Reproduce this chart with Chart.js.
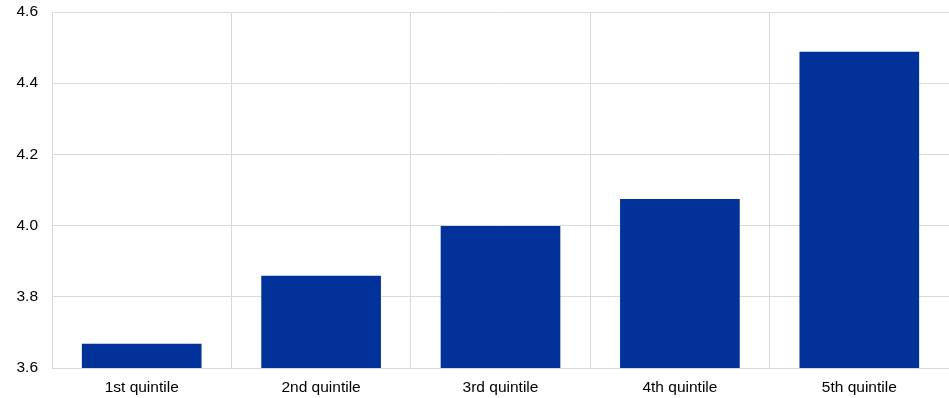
<!DOCTYPE html>
<html>
<head>
<meta charset="utf-8">
<script src="https://cdn.jsdelivr.net/npm/chart.js@4"></script>
<style>
  html, body { margin: 0; padding: 0; background: #fff; }
  #wrap { width: 949px; height: 398px; }
</style>
</head>
<body>
<div id="wrap"><canvas id="myChart"></canvas></div>
<script>
var categories = ['1st quintile', '2nd quintile', '3rd quintile', '4th quintile', '5th quintile'];
var values = [3.668, 3.859, 3.999, 4.075, 4.488];
var yTicks = [3.6, 3.8, 4.0, 4.2, 4.4, 4.6];

var ctx = document.getElementById('myChart');
var myChart = new Chart(ctx, {
    type: 'bar',
    data: {
        labels: categories,
        datasets: [{
            data: values,
            backgroundColor: '#003299',
            borderWidth: 0,
            barPercentage: 0.667,
            categoryPercentage: 1
        }]
    },
    options: {
        responsive: true,
        maintainAspectRatio: false,
        animation: false,
        layout: { padding: { top: 12, right: 0, left: 0, bottom: 0 } },
        plugins: {
            legend: { display: false },
            tooltip: { enabled: false }
        },
        scales: {
            x: {
                grid: { color: '#d9d9d9', drawTicks: false, offset: true },
                border: { color: '#d9d9d9' },
                ticks: { color: '#000', font: { family: 'Liberation Sans, Arial', size: 15.5 }, padding: 10 },
                afterFit: function (s) { s.height = 30; }
            },
            y: {
                min: 3.6,
                max: 4.6,
                afterBuildTicks: function (s) { s.ticks = yTicks.map(function (v) { return { value: v }; }); },
                grid: { color: '#d9d9d9', drawTicks: false },
                border: { display: false },
                ticks: {
                    color: '#000',
                    font: { family: 'Liberation Sans, Arial', size: 15.5 },
                    padding: 14,
                    callback: function (v) { return v.toFixed(1); }
                },
                afterFit: function (s) { s.width = 52; s.paddingTop = 0; s.paddingBottom = 0; }
            }
        }
    }
});
</script>
</body>
</html>
